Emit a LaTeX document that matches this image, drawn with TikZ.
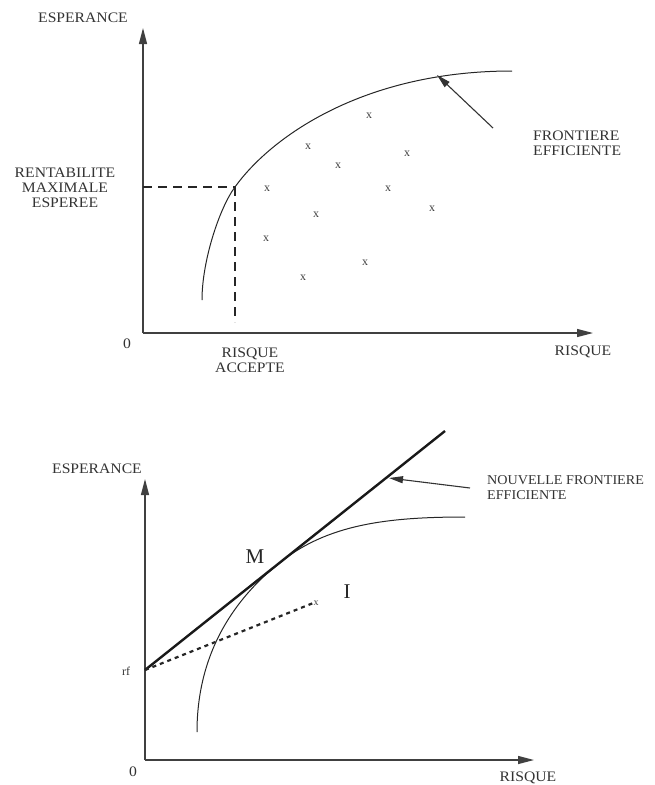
\documentclass[tikz,border=0pt]{standalone}
\usepackage{fontspec}
\setmainfont{Liberation Serif}
\usetikzlibrary{arrows.meta}
\begin{document}
\begin{tikzpicture}[x=1pt,y=-1pt,
  lbl/.style={font=\fontsize{14.5}{15}\selectfont, text=black!80, inner sep=0pt, align=center, xscale=1.08},
  lbll/.style={lbl, align=left, anchor=west},
  big/.style={font=\fontsize{21}{22}\selectfont, text=black!85, inner sep=0pt},
  mk/.style={font=\fontsize{12}{12}\selectfont, text=black!75, inner sep=0pt},
  axis/.style={line width=1.3pt, black!75, -{Triangle[length=16pt,width=8pt]}},
  curve/.style={line width=1pt, black!85},
  guide/.style={line width=1.4pt, black!85, dash pattern=on 9pt off 6pt},
  pointer/.style={line width=1.1pt, black!80, -{Triangle[length=14pt,width=7pt]}},
  frontier/.style={line width=2.4pt, black!90},
  portline/.style={line width=2.2pt, black!85, dash pattern=on 4pt off 4pt}]
\useasboundingbox (0,0) rectangle (655,785);

% ---------- top chart ----------
\coordinate (O1) at (143,333);
\coordinate (Y1) at (143,28);
\coordinate (X1) at (593,333);
\draw[axis] (O1) -- (Y1);
\draw[axis] (O1) -- (X1);
\node[lbl] (esp1) at (83,18) {ESPERANCE};
\node[lbl] (zero1) at (127,344) {0};
\node[lbl] (risq1) at (583,352) {RISQUE};
\node[lbl] (rent) at (65,188) {RENTABILITE\\MAXIMALE\\ESPEREE};
\node[lbl] (racc) at (250,360) {RISQUE\\ACCEPTE};

\coordinate (c1s) at (202,300);
\coordinate (P1) at (235,187);
\coordinate (c1e) at (512,71);
\draw[curve] (c1s) .. controls (202,260) and (220,207) .. (P1)
                   .. controls (270,138) and (362,71) .. (c1e);

\coordinate (Py) at (143,187);
\coordinate (Px) at (235,322);
\draw[guide] (Py) -- (P1);
\draw[guide] (P1) -- (Px);

\coordinate (ftip) at (437,75);
\coordinate (fstart) at (493,128);
\draw[pointer] (fstart) -- (ftip);
\node[lbll] (front) at (533,143) {FRONTIERE\\EFFICIENTE};

\foreach \i/\p in {1/{(369,116)},2/{(308,147)},3/{(338,166)},4/{(407,154)},5/{(267,189)},6/{(388,189)},7/{(432,209)},8/{(316,215)},9/{(266,239)},10/{(365,263)},11/{(303,278)}}
  \node[mk] (x\i) at \p {x};

% ---------- bottom chart ----------
\coordinate (O2) at (145,760);
\coordinate (Y2) at (145,479);
\coordinate (X2) at (534,760);
\draw[axis] (O2) -- (Y2);
\draw[axis] (O2) -- (X2);
\node[lbl] (esp2) at (97,469) {ESPERANCE};
\node[lbl] (zero2) at (133,772) {0};
\node[lbl] (risq2) at (528,778) {RISQUE};
\node[font=\fontsize{12}{12}\selectfont, text=black!80, inner sep=0pt] (rf) at (126,671) {rf};

\coordinate (rfp) at (145,670);
\coordinate (top2) at (445,431);
\coordinate (c2s) at (197,732);
\coordinate (T2) at (280,562.4);
\coordinate (c2e) at (465,517);
\draw[curve] (c2s) .. controls (197,650) and (237,596.7) .. (T2)
                   .. controls (327,525) and (385,517) .. (c2e);
\draw[frontier] (rfp) -- (top2);

\node[mk, font=\fontsize{10}{10}\selectfont] (ix) at (316,603) {x};
\draw[portline] (rfp) -- (ix.west);

\node[big] (M) at (255,557) {M};
\node[big] (I) at (347,592) {I};

\coordinate (ntip) at (389,478);
\coordinate (nstart) at (470,488);
\draw[pointer] (nstart) -- (ntip);
\node[lbll, font=\fontsize{13.5}{15}\selectfont, xscale=0.97] (nouv) at (487,488) {NOUVELLE FRONTIERE\\EFFICIENTE};
\end{tikzpicture}
\end{document}
